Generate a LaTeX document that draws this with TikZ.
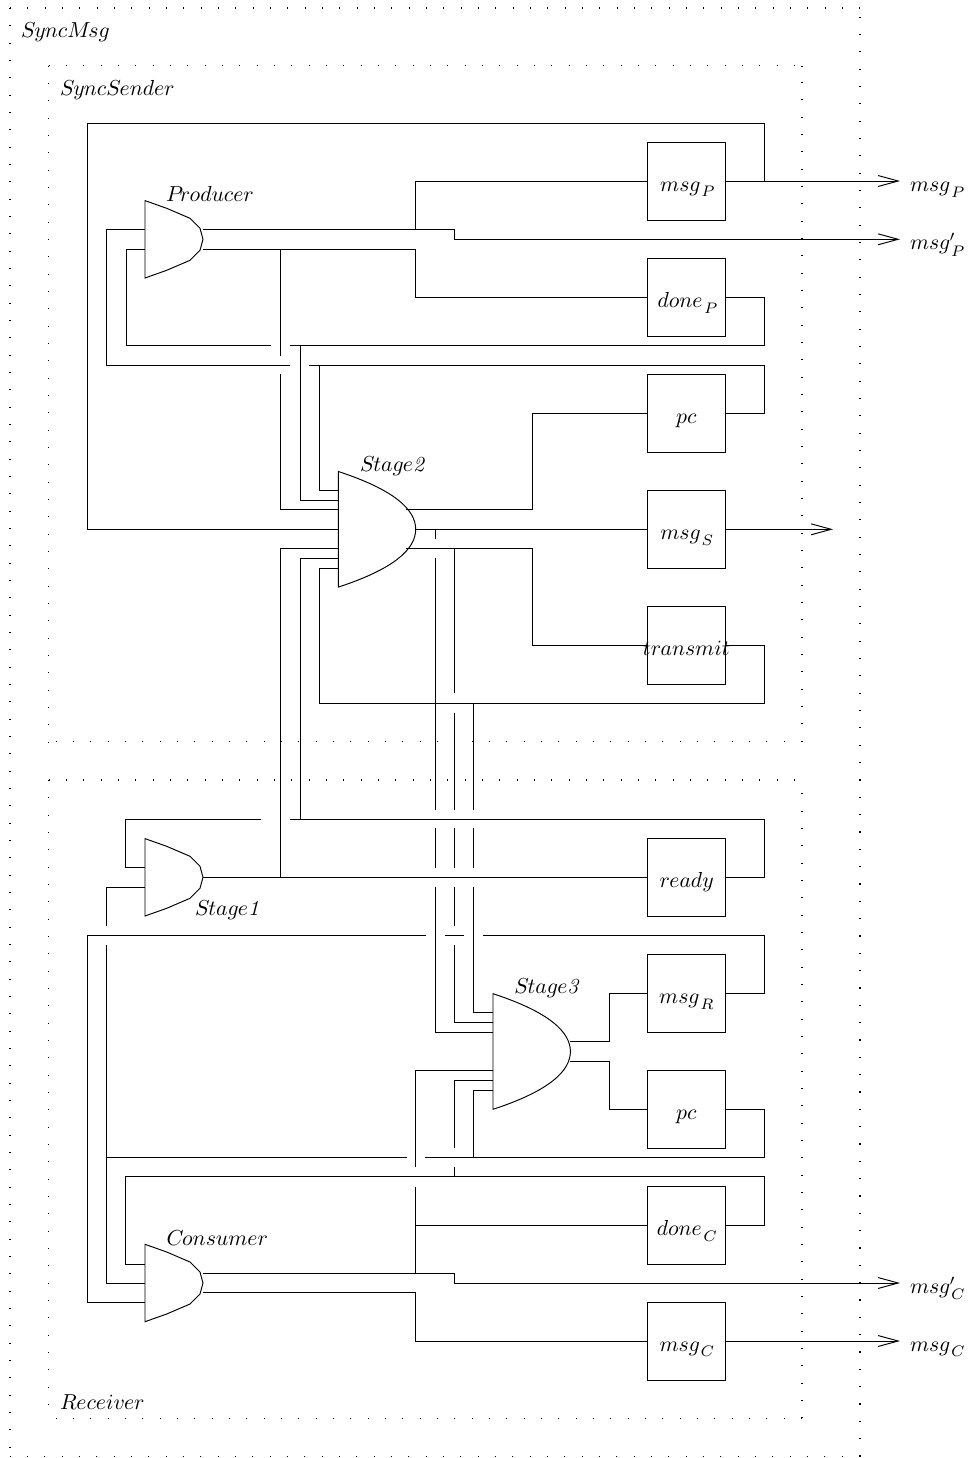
\documentclass[tikz,border=0pt]{standalone}
\usetikzlibrary{arrows.meta}
\tikzset{
  x=.4673pt,y=-.4673pt,
  wire/.style={line width=.45pt,line join=miter},
  outwire/.style={wire,-{Straight Barb[length=9.35pt,width=5.1pt,line width=.45pt]}},
  regbox/.style={draw,line width=.45pt,inner sep=0,outer sep=0,minimum width=36.45pt,minimum height=36.45pt,text height=9.35pt,text depth=0pt},
  gatesmall/.style={inner sep=0,outer sep=0,minimum width=27.1pt,minimum height=36.2pt,anchor=west},
  gatelarge/.style={inner sep=0,outer sep=0,minimum width=36.2pt,minimum height=54pt,anchor=west},
  txt/.style={anchor=base west,inner sep=0,outer sep=0},
  dotline/.style={line width=.6pt,dash pattern=on .5pt off 7.6pt}
}
\newcommand{\dotrect}[4]{%
  \draw[dotline] (#1,#2) -- (#3,#2);
  \draw[dotline] (#1,#2) -- (#1,#4);
  \draw[dotline] (#3,#4) -- (#1,#4);
  \draw[dotline] (#3,#4) -- (#3,#2);
}
\newcommand{\smallgate}[1]{%
  \draw[wire,shift={(#1.west)}] (0,-38.7) -- (21.7,-31) -- (45,-21) -- (55,-11) -- (58,0) -- (55,11) -- (45,21) -- (21.7,31) -- (0,38.7) -- cycle;
}
\newcommand{\largegate}[1]{%
  \draw[wire,shift={(#1.west)}] (0,-57.8) .. controls (56.7,-39.3) and (77.4,-19.3) .. (77.4,0) .. controls (77.4,19.3) and (56.7,39.3) .. (0,57.8) -- cycle;
}
% math italic set as text: no italic corrections between letters
\newcommand{\mi}[1]{\scalebox{1.015}{\usefont{OML}{cmm}{m}{it}#1}}
\newcommand{\subs}[2][-2.66pt]{\kern.7pt\raisebox{#1}{\fontsize{7}{8}\selectfont\mi{#2}}}
\newcommand{\prm}{\rlap{$^{\prime}$}}
\newcommand{\regtxt}[1]{\makebox[0pt]{#1}}
\begin{document}
\begin{tikzpicture}
\useasboundingbox (0,0) rectangle (968,1458);
% dotted frames
\dotrect{10}{8}{860}{1456.5}
\dotrect{48.5}{65.5}{802}{741.7}
\dotrect{48.5}{780}{802}{1418.3}
\node[txt] (lSyncMsg) at (21,37) {\mi{SyncMsg}};
\node[txt] (lSyncSender) at (60,95) {\mi{SyncSender}};
\node[txt] (lReceiver) at (60,1409) {\mi{Receiver}};
% gates
\node[gatesmall] (Producer) at (145,239.3) {};
\node[gatesmall] (Stage1) at (145,877.3) {};
\node[gatesmall] (Consumer) at (145,1283) {};
\node[gatelarge] (Stage2) at (338.3,529.3) {};
\node[gatelarge] (Stage3) at (493,1051.5) {};
\smallgate{Producer}
\smallgate{Stage1}
\smallgate{Consumer}
\largegate{Stage2}
\largegate{Stage3}
\node[txt] (lProducer) at (166,201) {\mi{Producer}};
\node[txt] (lStage1) at (195,915.3) {\mi{Stage}\textit{1}};
\node[txt] (lConsumer) at (166.7,1245) {\mi{Consumer}};
\node[txt] (lStage2) at (360,471.7) {\mi{Stage}\textit{2}};
\node[txt] (lStage3) at (514.3,993.3) {\mi{Stage}\textit{3}};
% registers
\node[regbox] (rMsgP) at (686.3,181) {\regtxt{\mi{msg}\subs{P}}};
\node[regbox] (rDoneP) at (686.3,297.3) {\regtxt{\mi{done}\subs{P}}};
\node[regbox] (rPc) at (686.3,413) {\regtxt{\mi{pc}}};
\node[regbox] (rMsgS) at (686.3,529.3) {\regtxt{\mi{msg}\subs{S}}};
\node[regbox] (rTransmit) at (686.3,645.3) {\regtxt{\mi{transmit}}};
\node[regbox] (rReady) at (686.3,877.3) {\regtxt{\mi{ready}}};
\node[regbox] (rMsgR) at (686.3,993.7) {\regtxt{\mi{msg}\subs{R}}};
\node[regbox] (rPcB) at (686.3,1109.3) {\regtxt{\mi{pc}}};
\node[regbox] (rDoneC) at (686.3,1225.3) {\regtxt{\mi{done}\subs{C}}};
\node[regbox] (rMsgC) at (686.3,1341) {\regtxt{\mi{msg}\subs{C}}};
% outputs
\node[txt] (oMsgP) at (910,191.7) {\mi{msg}\subs{P}};
\node[txt] (oMsgPp) at (910,249.5) {\mi{msg}\prm\subs[-3.2pt]{P}};
\node[txt] (oMsgCp) at (910,1293) {\mi{msg}\prm\subs[-3.2pt]{C}};
\node[txt] (oMsgC) at (910,1351) {\mi{msg}\subs{C}};
\coordinate (eMsgP) at (900,181);
\coordinate (eMsgPp) at (900,239.3);
\coordinate (eMsgS) at (833,529.3);
\coordinate (eMsgCp) at (900,1283);
\coordinate (eMsgC) at (900,1341);
% Producer outputs
\draw[outwire] (Producer.east |- 0,229.3) -- (454.3,229.3) -- (454.3,239.3) -- (eMsgPp);
\draw[wire] (415.7,229.3) -- (415.7,181) -- (rMsgP.west);
\draw[wire] (Producer.east |- 0,249) -- (415.7,249) -- (415.7,297.3) -- (rDoneP.west);
\draw[wire] (280.6,249) -- (280.6,355.7);
\draw[wire] (280.6,374) -- (280.6,509.7) -- (Stage2.west |- 0,509.7);
% msgP register
\draw[outwire] (rMsgP.east) -- (eMsgP);
\draw[wire] (764,181) -- (764,123.3) -- (87,123.3) -- (87,529.3) -- (Stage2.west);
% doneP register
\draw[wire] (rDoneP.east) -- (764,297.3) -- (764,345.7) -- (290,345.7);
\draw[wire] (271,345.7) -- (126,345.7) -- (126,249) -- (Producer.west |- 0,249);
\draw[wire] (300,345.7) -- (300,500.3) -- (Stage2.west |- 0,500.3);
% pc register
\draw[wire] (rPc.east) -- (764,413) -- (764,365) -- (309.3,365);
\draw[wire] (290,365) -- (106.7,365) -- (106.7,229.3) -- (Producer.west |- 0,229.3);
\draw[wire] (319.3,365) -- (319.3,490.7) -- (Stage2.west |- 0,490.7);
% Stage2 outputs
\draw[wire] (405.7,509.7) -- (532,509.7) -- (532,413) -- (rPc.west);
\draw[wire] (Stage2.east) -- (rMsgS.west);
\draw[outwire] (rMsgS.east) -- (eMsgS);
\draw[wire] (405.7,548.3) -- (532,548.3) -- (532,645.3) -- (rTransmit.west);
% msgS to Stage3
\draw[wire] (435,529.3) -- (435,539);
\draw[wire] (435,558.3) -- (435,810);
\draw[wire] (435,828.3) -- (435,867.7);
\draw[wire] (435,886.7) -- (435,1032) -- (Stage3.west |- 0,1032);
% transmit-in branch to Stage3
\draw[wire] (454.3,548.3) -- (454.3,693.3);
\draw[wire] (454.3,712.7) -- (454.3,810);
\draw[wire] (454.3,828.3) -- (454.3,867.7);
\draw[wire] (454.3,886.7) -- (454.3,926);
\draw[wire] (454.3,945) -- (454.3,1022.3) -- (Stage3.west |- 0,1022.3);
% transmit register
\draw[wire] (rTransmit.east) -- (764,645.3) -- (764,703.3) -- (319.3,703.3) -- (319.3,568) -- (Stage2.west |- 0,568);
\draw[wire] (473.7,703.3) -- (473.7,810);
\draw[wire] (473.7,828.3) -- (473.7,867.7);
\draw[wire] (473.7,886.7) -- (473.7,1012.7) -- (Stage3.west |- 0,1012.7);
% Stage1
\draw[wire] (Stage1.east) -- (rReady.west);
\draw[wire] (280.6,877.3) -- (280.6,548.3) -- (Stage2.west |- 0,548.3);
\draw[wire] (rReady.east) -- (764,877.3) -- (764,819) -- (290,819);
\draw[wire] (261.3,819) -- (125.7,819) -- (125.7,867.7) -- (Stage1.west |- 0,867.7);
\draw[wire] (300,819) -- (300,558.3) -- (Stage2.west |- 0,558.3);
\draw[wire] (Stage1.west |- 0,887.3) -- (106.3,887.3) -- (106.3,925.7);
\draw[wire] (106.3,945) -- (106.3,1283) -- (Consumer.west);
% pc (lower) register
\draw[wire] (106.3,1157.3) -- (406.7,1157.3);
\draw[wire] (425,1157.3) -- (764,1157.3) -- (764,1109.3) -- (rPcB.east);
\draw[wire] (473.7,1157.3) -- (473.7,1090) -- (Stage3.west |- 0,1090);
% msgR register
\draw[wire] (rMsgR.east) -- (764,993.7) -- (764,935) -- (483.3,935);
\draw[wire] (464.3,935) -- (445,935);
\draw[wire] (425.7,935) -- (87,935) -- (87,1302.7) -- (Consumer.west |- 0,1302.7);
% Stage3 outputs
\draw[wire] (Stage3.east |- 0,1041.7) -- (609,1041.7) -- (609,993.7) -- (rMsgR.west);
\draw[wire] (Stage3.east |- 0,1061) -- (609,1061) -- (609,1109.3) -- (rPcB.west);
% doneC register
\draw[wire] (rDoneC.east) -- (764,1225.3) -- (764,1176.7) -- (125.7,1176.7) -- (125.7,1264) -- (Consumer.west |- 0,1264);
\draw[wire] (454.3,1176.7) -- (454.3,1167.3);
\draw[wire] (454.3,1148.3) -- (454.3,1080) -- (Stage3.west |- 0,1080);
% Consumer outputs
\draw[outwire] (Consumer.east |- 0,1273.7) -- (454.3,1273.7) -- (454.3,1283) -- (eMsgCp);
\draw[wire] (415.7,1273.7) -- (415.7,1186.7);
\draw[wire] (415.7,1167.3) -- (415.7,1070.3) -- (Stage3.west |- 0,1070.3);
\draw[wire] (415.7,1225.3) -- (rDoneC.west);
\draw[wire] (Consumer.east |- 0,1292.7) -- (415.7,1292.7) -- (415.7,1341) -- (rMsgC.west);
\draw[outwire] (rMsgC.east) -- (eMsgC);
\end{tikzpicture}
\end{document}
